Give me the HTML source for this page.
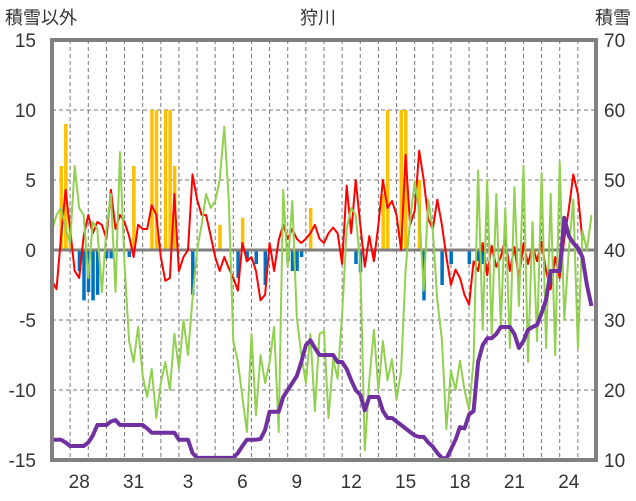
<!DOCTYPE html>
<html><head><meta charset="utf-8">
<style>
html,body{margin:0;padding:0;background:#fff;}
svg{display:block;font-family:"Liberation Sans","Noto Sans CJK JP",sans-serif;}
</style></head>
<body>
<svg id="chart" width="636" height="501" viewBox="0 0 636 501">
  <text x="5" y="24" font-size="18" fill="#333">積雪以外</text>
  <text x="318" y="24" font-size="18" fill="#333" text-anchor="middle">狩川</text>
  <text x="631" y="24" font-size="18" fill="#333" text-anchor="end">積雪</text>
  <g id="grid"></g>
  <g id="bars"></g>
  <g id="lines"></g>
  <g id="axes"></g>
</svg>
<script>
const dayLabels = ["28","31","3","6","9","12","15","18","21","24"];
const dayLabelIndex = [1,4,7,10,13,16,19,22,25,28];
const leftTicks = [-15,-10,-5,0,5,10,15];
const rightTicks = [10,20,30,40,50,60,70];
const red = [-2.2,-2.8,1.0,4.3,1.5,-1.5,-2.0,1.0,2.5,1.2,2.0,1.8,0.8,4.3,1.5,2.5,2.0,1.0,-0.5,1.8,1.5,1.5,3.2,2.5,-0.5,-2.2,-2.0,4.0,-1.5,-0.5,0.0,5.4,3.6,2.5,2.5,1.0,-0.5,-1.5,-0.5,-1.3,-2.0,-2.9,0.5,-0.8,-0.5,-1.5,-3.6,-3.2,0.5,-1.5,0.7,1.8,0.8,1.5,0.8,0.5,0.8,1.2,1.8,0.8,0.5,1.2,1.6,1.2,-1.0,4.6,1.2,5.0,1.8,-1.2,1.0,-0.8,1.8,5.0,3.0,3.5,2.5,0.0,6.8,1.8,2.8,7.1,5.0,2.2,1.5,3.6,1.8,-0.5,-2.5,-1.4,-2.0,-3.2,-3.9,-0.8,-1.5,0.5,-1.8,0.3,-1.2,-0.5,0.8,-1.5,0.2,-2.0,0.5,-1.0,0.3,-0.8,0.6,-1.5,-2.8,-0.5,-2.0,0.8,2.9,5.4,4.0,0.7];
const green = [1.4,2.5,3.0,1.5,0.5,6.0,3.0,2.5,-2.0,2.0,1.5,-3.0,1.5,4.0,-3.0,7.0,-1.0,-6.5,-8.0,-5.5,-9.0,-10.5,-8.5,-12.0,-9.5,-8.0,-10.0,-6.0,-8.5,-5.0,-7.5,-3.5,0.0,1.8,4.0,3.0,3.5,5.0,8.8,3.5,-6.5,-8.0,-10.5,-13.0,-6.0,-11.8,-7.5,-9.5,-8.0,-5.5,-13.0,4.3,-1.2,3.5,-4.8,-7.5,-9.5,-6.0,-11.5,-6.0,-5.8,-12.0,-7.8,-9.2,-4.6,1.5,3.0,2.5,-1.0,-14.3,-9.3,-5.7,-10.0,-6.5,-9.3,-7.8,-10.7,-8.6,-1.4,2.1,4.9,2.8,-2.9,3.6,1.4,-3.6,-6.4,-12.8,-8.6,-10.0,-7.9,-10.0,-11.4,-7.9,5.7,-5.7,5.0,-6.0,4.0,-5.5,3.0,-7.0,4.5,-4.0,6.0,-8.0,2.0,-6.5,5.5,-7.0,4.0,-7.5,6.3,-5.0,0.0,3.6,-7.0,1.4,0.0,2.5];
const snow = [12.9,12.9,12.9,12.5,12,12,12,12,12.5,13.5,15,15,15,15.5,15.7,15,15,15,15,15,15,14.5,13.9,13.9,13.9,13.9,13.9,13.9,12.9,12.9,12.9,11,10.3,10.3,10.3,10.3,10.3,10.3,10.3,10.3,10.3,11,12,12.9,12.9,12.9,13,14.3,16.9,16.9,16.9,19,20,21,22,24,26.4,27.1,26,25,25,25,25,24,24,23,21.4,20,19.3,17.1,19,19,19,17,16,16,15.5,15,14.5,14,13.5,13.3,13.3,12.5,11.9,11,10.3,10.2,11.5,12.9,14.7,14.5,16.5,17,24,26.4,27.4,27.4,28,29,29,29,28,26,27,28.6,29,29.3,31,32.9,37,37,37,44.6,42,41,40.3,39,35,32];
const barIndex = [2,3,4,6,7,8,9,10,12,13,17,18,22,23,25,26,27,31,37,41,42,43,45,47,52,53,54,55,57,67,68,71,73,74,77,78,81,82,86,88,92,94,95];
const barValue = [6,9,2,-1.5,-3.6,-3.0,-3.6,-3.2,-0.6,-0.6,-0.5,6,10,10,10,10,6,-3.2,1.8,-2,2.3,-0.8,-1,-2.5,-0.8,-1.5,-1.5,-0.5,3,-1,-1.6,-0.5,4,10,10,10,5,-3.6,-2.5,-1,-1,-0.8,-1];

const NS="http://www.w3.org/2000/svg";
const X0=52, X1=596, Y0=40, Y1=460, STEP=0.25, DAYS=30;
const xDay = d => X0 + d*(X1-X0)/DAYS;
const xIdx = i => xDay(i*STEP);
const yL = v => Y1 - (v+15)*(Y1-Y0)/30;
const yR = s => Y1 - (s-10)*(Y1-Y0)/60;
function mk(tag, attrs, parent){const e=document.createElementNS(NS,tag);for(const k in attrs)e.setAttribute(k,attrs[k]);parent.appendChild(e);return e;}
const grid=document.getElementById('grid'), bars=document.getElementById('bars'), lines=document.getElementById('lines'), axes=document.getElementById('axes');

for(let d=1; d<DAYS; d++){
  const l=mk('line',{x1:xDay(d),x2:xDay(d),y1:Y0,y2:Y1,stroke:'#777','stroke-width':1,'stroke-dasharray':'4,3'},grid);
  
  
}
leftTicks.forEach(v=>{
  if(v===-15||v===15||v===0) return;
  const l=mk('line',{x1:X0,x2:X1,y1:yL(v),y2:yL(v),stroke:'#777','stroke-width':1,'stroke-dasharray':'4,3'},grid);
  
  
});

barIndex.forEach((i,n)=>{
  const v=barValue[n];
  const y=Math.min(yL(v),yL(0)), h=Math.abs(yL(v)-yL(0));
  const r=mk('rect',{x:xIdx(i)-1.5,y:y,width:3.5,height:h,fill:v>0?'#FFC000':'#0070C0'},bars);
  
  
});

const z=mk('line',{x1:X0,x2:X1,y1:yL(0),y2:yL(0),stroke:'#808080','stroke-width':3},lines);



function path(arr, yf, color, w, name){
  const d=arr.map((v,i)=>(i?'L':'M')+xIdx(i).toFixed(1)+','+yf(v).toFixed(1)).join('');
  const p=mk('path',{d:d,fill:'none',stroke:color,'stroke-width':w,'stroke-linejoin':'round'},lines);
  
  
}
path(red, yL, '#FF0000', 2, 'red-series-line');
path(green, yL, '#92D050', 2, 'green-series-line');
path(snow, yR, '#7030A0', 4, 'snow-depth-line');

const f=mk('rect',{x:X0,y:Y0,width:X1-X0,height:Y1-Y0,fill:'none',stroke:'#808080','stroke-width':4},axes);



leftTicks.forEach(v=>{
  const t=mk('text',{x:36,y:yL(v)+7,'font-size':19,fill:'#333','text-anchor':'end'},axes);
  t.textContent=v;
  
  
});
rightTicks.forEach(s=>{
  const t=mk('text',{x:604,y:yR(s)+7,'font-size':19,fill:'#333'},axes);
  t.textContent=s;
  
  
});
dayLabels.forEach((lab,n)=>{
  const t=mk('text',{x:xDay(dayLabelIndex[n]+0.5),y:488,'font-size':19,fill:'#333','text-anchor':'middle'},axes);
  t.textContent=lab;
  
  
});
</script>
</body></html>
